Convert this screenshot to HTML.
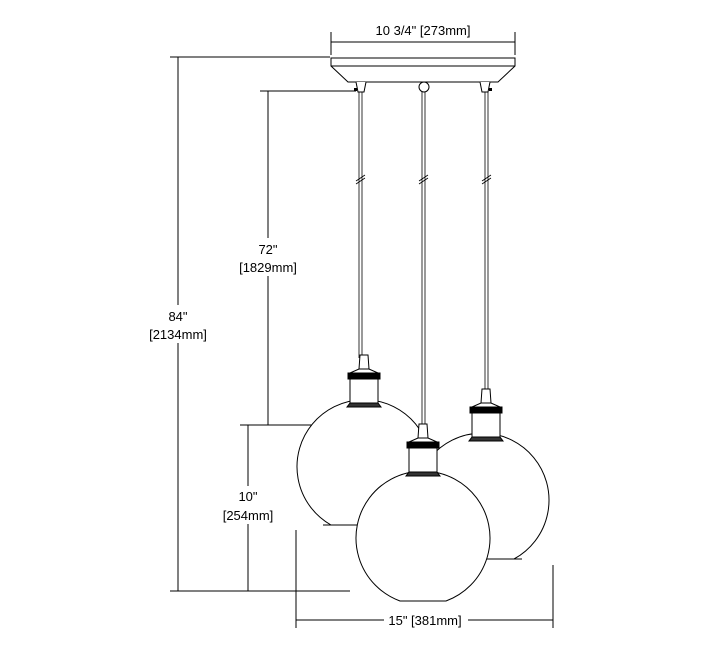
<!DOCTYPE html>
<html><head><style>html,body{margin:0;background:#fff}svg{display:block}</style></head><body>
<svg width="720" height="655" viewBox="0 0 720 655" xmlns="http://www.w3.org/2000/svg" font-family="Liberation Sans, sans-serif" font-size="13" fill="none" stroke="#000">
<g stroke-width="1">
<line x1="331" y1="42" x2="515" y2="42"/><line x1="331" y1="32" x2="331" y2="55"/><line x1="515" y1="32" x2="515" y2="55"/>
<line x1="170" y1="57" x2="330" y2="57"/><line x1="178" y1="57" x2="178" y2="591"/>
<line x1="170" y1="591" x2="350" y2="591"/>
<line x1="260" y1="91" x2="356" y2="91"/><line x1="268" y1="91" x2="268" y2="425"/>
<line x1="240" y1="425" x2="330" y2="425"/><line x1="248" y1="425" x2="248" y2="591"/>
<line x1="296" y1="530" x2="296" y2="628"/><line x1="553" y1="565" x2="553" y2="628"/>
<line x1="296" y1="620" x2="553" y2="620"/>
</g>
<path d="M331 58 L515 58 L515 66 L498 82 L348 82 L331 66 Z" fill="#fff" stroke-width="1"/>
<line x1="331" y1="66" x2="515" y2="66"/>
<path d="M356 82 L358 92 L364 92 L366 82" fill="#fff"/>
<path d="M480 82 L482 92 L488 92 L490 82" fill="#fff"/>
<circle cx="424" cy="87" r="5" fill="#fff"/>
<rect x="354" y="88" width="3" height="3" fill="#000" stroke="none"/>
<rect x="489" y="88" width="3" height="3" fill="#000" stroke="none"/>
<g stroke-width="0.8">
<line x1="359" y1="92" x2="359" y2="358"/><line x1="362" y1="92" x2="362" y2="358"/>
<line x1="422" y1="92" x2="422" y2="426"/><line x1="425" y1="92" x2="425" y2="426"/>
<line x1="485" y1="92" x2="485" y2="392"/><line x1="488" y1="92" x2="488" y2="392"/>
</g>
<g stroke-width="0.8"><line x1="356" y1="181" x2="365" y2="175"/><line x1="356" y1="184" x2="365" y2="178"/>
<line x1="419" y1="181" x2="428" y2="175"/><line x1="419" y1="184" x2="428" y2="178"/>
<line x1="482" y1="181" x2="491" y2="175"/><line x1="482" y1="184" x2="491" y2="178"/></g>
<defs>
<g id="sock">
<path d="M-4 0 L4 0 L5 14 L-5 14 Z" fill="#fff"/>
<path d="M-5 14 L5 14 L14 18 L-14 18 Z" fill="#fff"/>
<rect x="-16" y="18" width="32" height="6" fill="#000"/>
<rect x="-14" y="24" width="28" height="24" fill="#fff"/>
<path d="M-14 48 L14 48 L17 52 L-17 52 Z" fill="#333"/>
</g>
</defs>
<!-- left -->
<path d="M331 525 A67 67 0 1 1 397 525 Z" fill="#fff" stroke="none"/>
<path d="M331 525 A67 67 0 1 1 397 525"/>
<line x1="323" y1="525" x2="397" y2="525"/>
<use href="#sock" x="364" y="355"/>
<!-- right -->
<path d="M450 559 A67 67 0 1 1 514 559 Z" fill="#fff" stroke="none"/>
<path d="M450 559 A67 67 0 1 1 514 559"/>
<line x1="450" y1="559" x2="522" y2="559"/>
<use href="#sock" x="486" y="389"/>
<!-- middle -->
<path d="M400 601 A67 67 0 1 1 446 601 Z" fill="#fff"/>
<use href="#sock" x="423" y="424"/>
<g fill="#000" stroke="none" text-anchor="middle">
<text x="423" y="35">10 3/4" [273mm]</text>
<rect x="230" y="238" width="76" height="38" fill="#fff"/>
<text x="268" y="254">72"</text><text x="268" y="272">[1829mm]</text>
<rect x="140" y="305" width="76" height="38" fill="#fff"/>
<text x="178" y="321">84"</text><text x="178" y="339">[2134mm]</text>
<rect x="212" y="486" width="72" height="38" fill="#fff"/>
<text x="248" y="501">10"</text><text x="248" y="520">[254mm]</text>
<rect x="384" y="612" width="84" height="16" fill="#fff"/>
<text x="425" y="625">15" [381mm]</text>
</g>
</svg>
</body></html>
